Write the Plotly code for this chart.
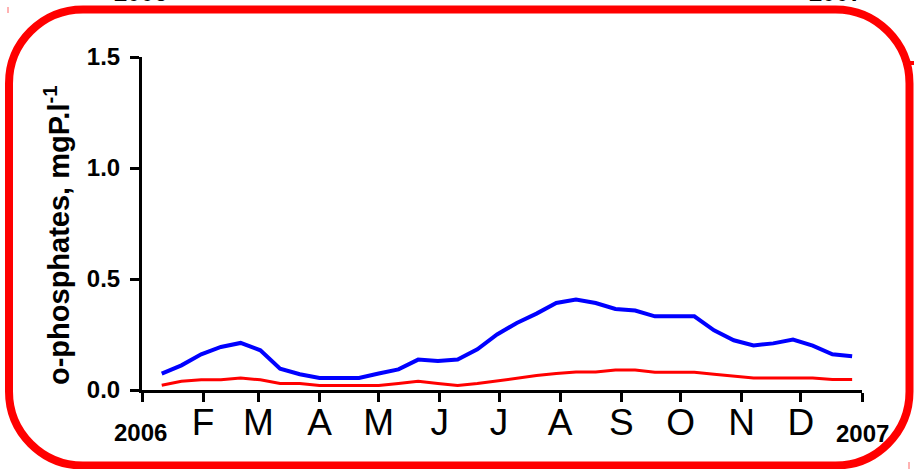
import plotly.graph_objects as go

# ---- data ----
dates = ["2006-01-11", "2006-01-21", "2006-01-31", "2006-02-10", "2006-02-20", "2006-03-02",
         "2006-03-12", "2006-03-22", "2006-04-01", "2006-04-11", "2006-04-21", "2006-05-01",
         "2006-05-11", "2006-05-21", "2006-05-31", "2006-06-10", "2006-06-20", "2006-06-30",
         "2006-07-10", "2006-07-20", "2006-07-30", "2006-08-09", "2006-08-19", "2006-08-29",
         "2006-09-08", "2006-09-18", "2006-09-28", "2006-10-08", "2006-10-18", "2006-10-28",
         "2006-11-07", "2006-11-17", "2006-11-27", "2006-12-07", "2006-12-17", "2006-12-27"]
blue_values = [0.074, 0.111, 0.161, 0.194, 0.212, 0.179, 0.096, 0.071, 0.054, 0.054, 0.054, 0.074,
               0.093, 0.137, 0.131, 0.137, 0.183, 0.250, 0.302, 0.344, 0.392, 0.407, 0.392, 0.365,
               0.358, 0.332, 0.332, 0.332, 0.269, 0.224, 0.201, 0.210, 0.227, 0.200, 0.161, 0.152]
red_values = [0.021, 0.039, 0.046, 0.046, 0.054, 0.046, 0.029, 0.029, 0.020, 0.020, 0.020, 0.020,
              0.029, 0.039, 0.029, 0.020, 0.029, 0.041, 0.056, 0.065, 0.074, 0.081, 0.081, 0.090,
              0.090, 0.080, 0.080, 0.080, 0.071, 0.062, 0.054, 0.054, 0.054, 0.054, 0.047, 0.047]
month_ticks = ["2006-01-01", "2006-02-01", "2006-03-01", "2006-04-01", "2006-05-01", "2006-06-01",
               "2006-07-01", "2006-08-01", "2006-09-01", "2006-10-01", "2006-11-01", "2006-12-01",
               "2007-01-01"]
month_labels = [" ", "F", "M", "A", "M", "J", "J", "A", "S", "O", "N", "D", " "]
y_ticks = [0, 0.5, 1.0, 1.5]
y_labels = ["0.0", "0.5", "1.0", "1.5"]
y_title = "o-phosphates, mgP.l<sup>-1</sup>"

# ---- geometry helpers (pixel -> paper) ----
W, H = 914, 469
PL, PR, PT, PB = 142, 862, 57, 390


def px(x):
    return (x - PL) / (PR - PL)


def py(y):
    return (PB - y) / (PB - PT)


FONT = "Liberation Sans, Arial, sans-serif"

fig = go.Figure()
fig.add_trace(go.Scatter(x=dates, y=blue_values, mode="lines",
                         line=dict(color="#0000FF", width=4), showlegend=False))
fig.add_trace(go.Scatter(x=dates, y=red_values, mode="lines",
                         line=dict(color="#FF0000", width=3), showlegend=False))

# rounded frame
L, R, T, B, r = 9, 909.5, 9.5, 465.5, 74
k = 0.5523 * r
pts = [
    ("M", [(L + r, T)]),
    ("L", [(R - r, T)]),
    ("C", [(R - r + k, T), (R, T + r - k), (R, T + r)]),
    ("L", [(R, B - r)]),
    ("C", [(R, B - r + k), (R - r + k, B), (R - r, B)]),
    ("L", [(L + r, B)]),
    ("C", [(L + r - k, B), (L, B - r + k), (L, B - r)]),
    ("L", [(L, T + r)]),
    ("C", [(L, T + r - k), (L + r - k, T), (L + r, T)]),
]
path = ""
for cmd, coords in pts:
    path += cmd + " " + " ".join(f"{px(a):.5f},{py(b):.5f}" for a, b in coords) + " "
path += "Z"

shapes = [
    dict(type="path", xref="paper", yref="paper", path=path,
         line=dict(color="#FF0000", width=8), fillcolor="rgba(0,0,0,0)", layer="above"),
    dict(type="line", xref="paper", yref="paper", x0=px(8), x1=px(8), y0=py(7), y1=py(13),
         line=dict(color="#FF6666", width=1)),
    dict(type="line", xref="paper", yref="paper", x0=px(903), x1=px(914), y0=py(63), y1=py(63),
         line=dict(color="#FF0000", width=4)),
    dict(type="line", xref="paper", yref="paper", x0=px(909), x1=px(909), y0=py(462), y1=py(469),
         line=dict(color="#FF6666", width=1)),
]

annotations = [
    dict(text=y_title, xref="paper", yref="paper", x=px(57), y=py(235), textangle=-90,
         showarrow=False, xanchor="center", yanchor="middle",
         font=dict(family=FONT, size=29, color="black", weight="bold")),
    dict(text="2006", xref="paper", yref="paper", x=px(140), y=py(432), showarrow=False,
         xanchor="center", yanchor="middle",
         font=dict(family=FONT, size=24, color="black", weight="bold")),
    dict(text="2007", xref="paper", yref="paper", x=px(862), y=py(433), showarrow=False,
         xanchor="center", yanchor="middle",
         font=dict(family=FONT, size=24, color="black", weight="bold")),
    dict(text="2006", xref="paper", yref="paper", x=px(140), y=py(-7), showarrow=False,
         xanchor="center", yanchor="middle",
         font=dict(family=FONT, size=24, color="black", weight="bold")),
    dict(text="2007", xref="paper", yref="paper", x=px(835), y=py(-7), showarrow=False,
         xanchor="center", yanchor="middle",
         font=dict(family=FONT, size=24, color="black", weight="bold")),
]

fig.update_layout(
    width=W, height=H,
    margin=dict(l=PL, r=W - PR, t=PT, b=H - PB, pad=0),
    paper_bgcolor="white", plot_bgcolor="white",
    shapes=shapes, annotations=annotations,
    xaxis=dict(type="date", range=["2006-01-01", "2007-01-01"],
               tickmode="array", tickvals=month_ticks, ticktext=month_labels,
               ticks="outside", ticklen=9, tickwidth=3, tickcolor="black",
               showline=True, linewidth=3, linecolor="black",
               showgrid=False, zeroline=False, ticklabelstandoff=-11,
               tickfont=dict(family=FONT, size=37, color="black")),
    yaxis=dict(range=[0, 1.5], tickmode="array", tickvals=y_ticks, ticktext=y_labels,
               ticks="outside", ticklen=9, tickwidth=3, tickcolor="black",
               showline=True, linewidth=3, linecolor="black",
               showgrid=False, zeroline=False, ticklabelstandoff=5,
               tickfont=dict(family=FONT, size=24, color="black", weight="bold")),
)

fig.write_html("out.html", config={"displayModeBar": False},
               post_script="document.body.style.margin='0';document.body.style.overflow='hidden';")
